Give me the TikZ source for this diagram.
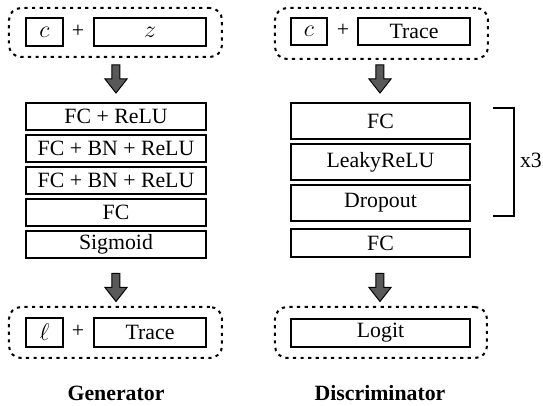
\documentclass[tikz,border=0pt]{standalone}
\usepackage{fontspec}
\setmainfont{Liberation Serif}
\begin{document}
\begin{tikzpicture}[x=0.5pt,y=-0.5pt,
  every node/.style={font=\fontsize{10.9}{13}\selectfont},
  box/.style={draw,line width=0.6pt,inner sep=0pt,minimum height=13.5pt},
  mathbox/.style={box,font=\fontsize{13}{15}\selectfont},
  grp/.style={draw,line width=1pt,dash pattern=on 1.6pt off 2.2pt,rounded corners=6pt},
  arrowfill/.style={draw,line width=0.5pt,fill=black!65},
  lbl/.style={font=\fontsize{10.9}{13}\selectfont\bfseries}
]
\useasboundingbox (0,0) rectangle (543,406);
\newcommand\myblockarrow[1]{%
  \draw[arrowfill,shift={(#1)}] (-4,0) -- (4,0) -- (4,14) -- (11,14) -- (0,28) -- (-11,14) -- (-4,14) -- cycle;}
% ---------- Generator ----------
\node[grp,minimum width=106.5pt,minimum height=24.5pt] (gin) at (115.5,32.5) {};
\node[mathbox,minimum width=18.5pt,minimum height=14pt] (gc) at (44.5,32) {$c$};
\node (gplus) at (78,31) {+};
\node[mathbox,minimum width=56pt,minimum height=14pt] (gz) at (150,32) {$z$};
\coordinate (ga1) at (116,65);
\myblockarrow{ga1}
\node[box,minimum width=90pt] (g1) at (116,116.5) {FC + ReLU};
\node[box,minimum width=90pt] (g2) at (116,148.5) {FC + BN + ReLU};
\node[box,minimum width=90pt] (g3) at (116,180.5) {FC + BN + ReLU};
\node[box,minimum width=90pt] (g4) at (116,212.5) {FC};
\node[box,minimum width=90pt] (g5) at (116,244.5) {Sigmoid};
\coordinate (ga2) at (116,273.5);
\myblockarrow{ga2}
\node[grp,minimum width=106.5pt,minimum height=25.5pt] (gout) at (115.5,332.5) {};
\node[mathbox,minimum width=18.5pt,minimum height=14.5pt] (gl) at (44.5,332.5) {$\ell$};
\node (gplus2) at (78,331.5) {+};
\node[box,minimum width=56pt,minimum height=14.5pt] (gt) at (150,332.5) {Trace};
\node[lbl] (gname) at (116,393) {Generator};
% ---------- Discriminator ----------
\node[grp,minimum width=106.5pt,minimum height=25.5pt] (din) at (381.5,33.5) {};
\node[mathbox,minimum width=18pt,minimum height=13.5pt] (dc) at (309,31.5) {$c$};
\node (dplus) at (343,30.5) {+};
\node[box,minimum width=56pt,minimum height=13.5pt] (dt) at (414,31.5) {Trace};
\coordinate (da1) at (380,65);
\myblockarrow{da1}
\node[box,minimum width=89.5pt,minimum height=18pt] (d1) at (380.5,121) {FC};
\node[box,minimum width=89.5pt,minimum height=18pt] (d2) at (380.5,162) {LeakyReLU};
\node[box,minimum width=89.5pt,minimum height=18pt] (d3) at (380.5,203) {Dropout};
\node[box,minimum width=89.5pt,minimum height=14pt] (d4) at (380.5,243) {FC};
\coordinate (da2) at (380,273.5);
\myblockarrow{da2}
\node[grp,minimum width=106pt,minimum height=25.5pt] (dout) at (381,332.5) {};
\node[box,minimum width=89.5pt,minimum height=14pt] (dl) at (380.5,333) {Logit};
\node[lbl] (dname) at (380,393) {Discriminator};
% bracket
\coordinate (b1) at (493,108);
\coordinate (b2) at (514,108);
\coordinate (b3) at (514,216);
\coordinate (b4) at (493,216);
\draw[line width=0.6pt] (b1) -- (b2) -- (b3) -- (b4);
\node (x3) at (531,160) {x3};
\end{tikzpicture}
\end{document}
